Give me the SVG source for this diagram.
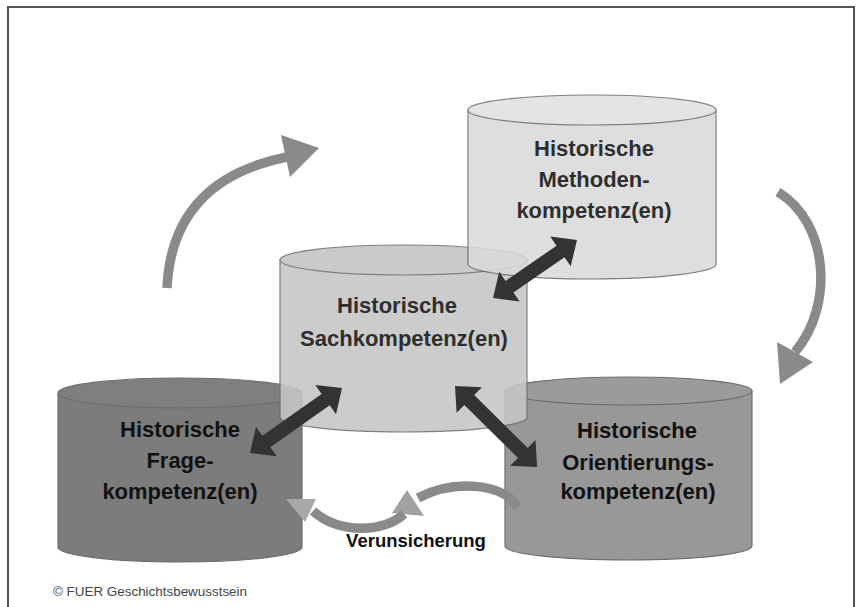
<svg xmlns="http://www.w3.org/2000/svg" width="861" height="607" viewBox="0 0 861 607">
<defs>
<style>
.lbl{font-family:"Liberation Sans",Arial,sans-serif;font-weight:bold;font-size:22px;fill:#111;text-anchor:middle}
.rim{stroke:#6e6e6e;stroke-width:1.2}
.dbl{fill:#333333}
.curve{fill:none;stroke:#8a8a8a;stroke-width:9.5}
.head{fill:#8a8a8a}
</style>
</defs>
<rect x="0" y="0" width="861" height="607" fill="#ffffff"/>
<rect x="8" y="7" width="846" height="620" fill="none" stroke="#555" stroke-width="2"/>

<g id="node-frage">
<path class="rim" d="M58,393 L58,547 A122,15 0 0 0 302,547 L302,393 Z" fill="#7c7c7c"/>
<ellipse class="rim" cx="180" cy="393" rx="122" ry="15" fill="#7f7f7f"/>
<text class="lbl" x="180" y="437">Historische</text>
<text class="lbl" x="180" y="468">Frage-</text>
<text class="lbl" x="180" y="499">kompetenz(en)</text>
</g>

<g id="node-orientierung">
<path class="rim" d="M505,391 L505,546 A123.5,14 0 0 0 752,546 L752,391 Z" fill="#989898"/>
<ellipse class="rim" cx="628.5" cy="391" rx="123.5" ry="14" fill="#9b9b9b"/>
<text class="lbl" x="637" y="438">Historische</text>
<text class="lbl" x="638" y="470">Orientierungs-</text>
<text class="lbl" x="638" y="499">kompetenz(en)</text>
</g>

<g id="node-sach" opacity="0.88">
<path class="rim" d="M280,260 L280,417 A123.5,15 0 0 0 527,417 L527,260 Z" fill="#c6c6c6"/>
<ellipse class="rim" cx="403.5" cy="260" rx="123.5" ry="15" fill="#c3c3c3"/>
<text class="lbl" x="397" y="313">Historische</text>
<text class="lbl" x="404" y="346">Sachkompetenz(en)</text>
</g>

<g id="node-methoden" opacity="0.88">
<path class="rim" d="M468,110 L468,264 A124,15 0 0 0 716,264 L716,110 Z" fill="#dadada"/>
<ellipse class="rim" cx="592" cy="110" rx="124" ry="15" fill="#e1e1e1"/>
<text class="lbl" x="594" y="156">Historische</text>
<text class="lbl" x="594" y="187">Methoden-</text>
<text class="lbl" x="594" y="218">kompetenz(en)</text>
</g>

<g id="connectors">
<path class="curve" d="M167,288 Q172,180 287,157"/>
<polygon class="head" points="281,135 319,148 290,177"/>
<path class="curve" d="M778,192 C828,222 835,305 795,352"/>
<polygon class="head" points="777,342 813,362 780,384"/>
<path class="curve" d="M518,507 C502,482 452,480 418,498"/>
<polygon points="407,490 424,516 392,513" fill="#a2a2a2"/>
<path class="curve" d="M404,514 C385,532 340,535 313,511" stroke="#8f8f8f"/>
<polygon points="286,499 316,499 305,522" fill="#a8a8a8"/>
<polygon class="dbl" transform="translate(493,298) rotate(-34.6)" points="0,0 20,-18 20,-7 82,-7 82,-18 102,0 82,18 82,7 20,7 20,18"/>
<polygon class="dbl" transform="translate(250,453) rotate(-35.2)" points="0,0 20,-18 20,-7 92.6,-7 92.6,-18 112.6,0 92.6,18 92.6,7 20,7 20,18"/>
<polygon class="dbl" transform="translate(455,386) rotate(44.6)" points="0,0 20,-18 20,-7 95.3,-7 95.3,-18 115.3,0 95.3,18 95.3,7 20,7 20,18"/>
</g>

<text x="416" y="547" font-family="Liberation Sans, Arial, sans-serif" font-weight="bold" font-size="18.5" fill="#111" text-anchor="middle">Verunsicherung</text>
<text x="53" y="596" font-family="Liberation Sans, Arial, sans-serif" font-size="12.5" fill="#444" textLength="194" lengthAdjust="spacingAndGlyphs">© FUER Geschichtsbewusstsein</text>
</svg>
